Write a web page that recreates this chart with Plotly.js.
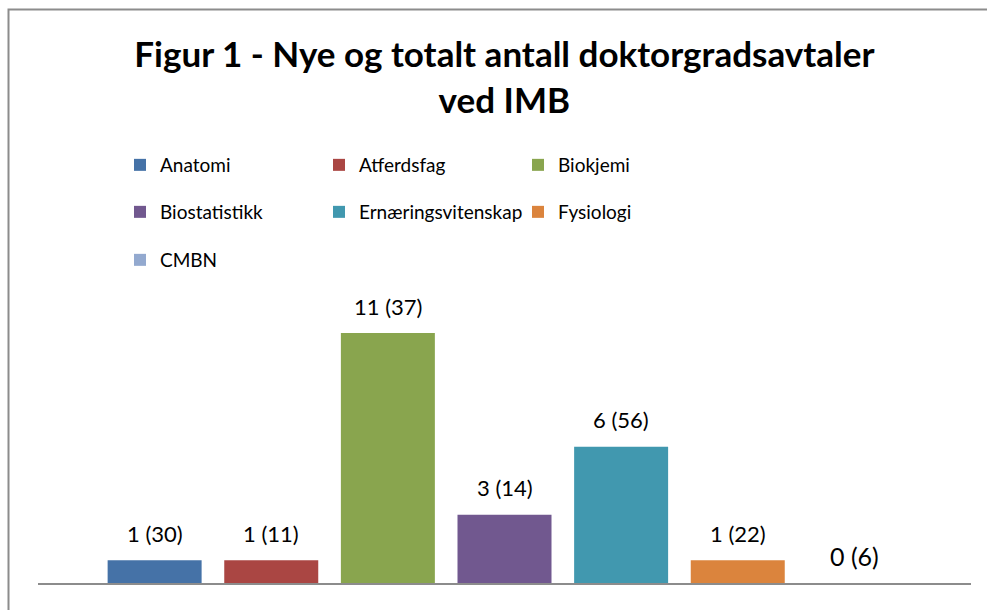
<!DOCTYPE html>
<html>
<head>
<meta charset="utf-8">
<script src="https://cdn.plot.ly/plotly-3.0.1.min.js"></script>
<style>html,body{margin:0;padding:0;background:#fff;}#chart{width:987px;height:610px;}</style>
</head>
<body>
<div id="chart"></div>
<script>
// Data
const categories = ['Anatomi', 'Atferdsfag', 'Biokjemi', 'Biostatistikk', 'Ernæringsvitenskap', 'Fysiologi', 'CMBN'];
const newAgreements = [1, 1, 11, 3, 6, 1, 0];
const totalAgreements = [30, 11, 37, 14, 56, 22, 6];
const colors = ['#4572A7', '#AA4643', '#89A54E', '#71588F', '#4198AF', '#DB843D', '#93A9CF'];
const titleText = 'Figur 1 - Nye og totalt antall doktorgradsavtaler<br>ved IMB';

const FONT = 'Lato, "Open Sans", sans-serif';
const legendNames = ['legend', 'legend2', 'legend3'];

const traces = categories.map((c, i) => ({
  type: 'bar',
  name: c,
  x: [c],
  y: [newAgreements[i]],
  width: 0.806,
  marker: { color: colors[i], line: { width: 0 } },
  legend: legendNames[Math.floor(i / 3)],
  hoverinfo: 'none'
}));

const annotations = categories.map((c, i) => ({
  x: c,
  y: newAgreements[i],
  xref: 'x',
  yref: 'y',
  text: newAgreements[i] + ' (' + totalAgreements[i] + ')',
  showarrow: false,
  yanchor: 'middle',
  yshift: 27,
  font: { family: FONT, size: newAgreements[i] === 0 ? 25 : 22, color: '#000' }
}));

function legendRow(yPix) {
  return {
    orientation: 'h',
    xref: 'container', yref: 'container',
    x: 120 / 987, y: 1 - yPix / 610,
    xanchor: 'left', yanchor: 'middle',
    entrywidth: 154, entrywidthmode: 'pixels',
    traceorder: 'normal',
    bgcolor: 'rgba(0,0,0,0)',
    borderwidth: 0,
    font: { family: FONT, size: 19, color: '#000' }
  };
}

const layout = {
  width: 987,
  height: 610,
  margin: { l: 38, r: 16, t: 299, b: 27 },
  paper_bgcolor: '#ffffff',
  plot_bgcolor: '#ffffff',
  barmode: 'overlay',
  showlegend: true,
  title: {
    text: titleText,
    xref: 'container', yref: 'container',
    x: 0.511, y: 1 - 67 / 610,
    xanchor: 'center', yanchor: 'top',
    font: { family: FONT, size: 35, weight: 'bold', color: '#000' }
  },
  xaxis: {
    type: 'category',
    range: [-1, 7],
    showline: true,
    linecolor: '#8c8c8c',
    linewidth: 2,
    ticks: '',
    showticklabels: false,
    showgrid: false,
    zeroline: false,
    fixedrange: true
  },
  yaxis: {
    range: [0, 12.5],
    visible: false,
    showgrid: false,
    zeroline: false,
    fixedrange: true
  },
  legend: legendRow(165),
  legend2: legendRow(212),
  legend3: legendRow(260),
  annotations: annotations,
  shapes: [{
    type: 'rect',
    xref: 'paper', yref: 'paper',
    x0: (8.5 - 38) / 933, x1: 1.1,
    y0: -0.3, y1: (583 - 9.5) / 284,
    line: { color: '#8c8c8c', width: 2 },
    fillcolor: 'rgba(0,0,0,0)',
    layer: 'below'
  }]
};

Plotly.newPlot('chart', traces, layout, { displayModeBar: false, staticPlot: true });
</script>
</body>
</html>
